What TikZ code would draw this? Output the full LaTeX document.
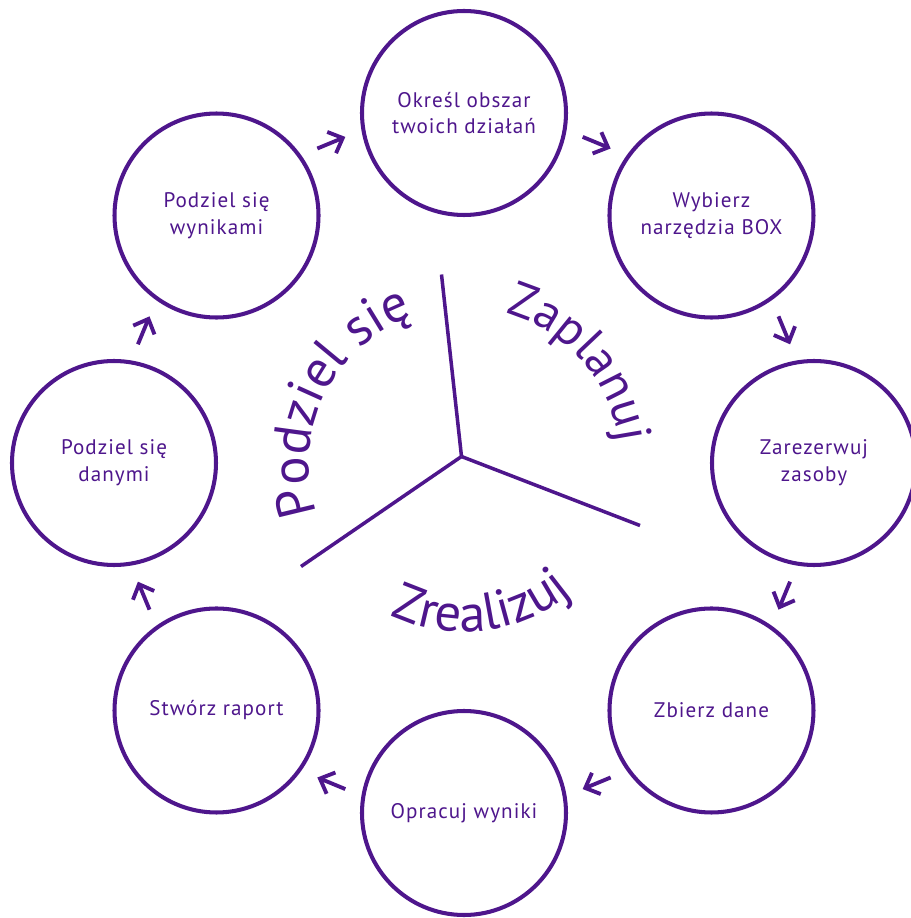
\documentclass[tikz,border=0pt]{standalone}
\usepackage{fontspec}
\setmainfont{PT Sans}
\newfontfamily\stagefont[LetterSpace=5]{PT Sans}
\usepackage{tikz}
\usetikzlibrary{arrows.meta}
\usetikzlibrary{decorations.text}
\definecolor{boxpurple}{RGB}{78,22,140}
\newcommand{\phasefont}{\fontsize{30}{36}\selectfont\color{boxpurple}}
\newcommand{\phasesmall}{\fontsize{28}{34}\selectfont\color{boxpurple}}

\begin{document}
\begin{tikzpicture}[
    stage/.style={circle, draw=boxpurple, line width=2.3pt, minimum size=4.08cm, inner sep=0pt,
        align=center, text=boxpurple, font=\stagefont\fontsize{12}{15.3}\selectfont},
    flow/.style={draw=boxpurple, line width=2.2pt, -{Straight Barb[length=0.24cm, width=0.46cm]}},
    divider/.style={draw=boxpurple, line width=2pt}
]
            \useasboundingbox (-9.28,-9.1) rectangle (8.94,9.26);

            % the eight steps round the ring
            \foreach \ang/\name/\txt in {90/plan/{Określ obszar\\twoich działań},
                    45/tools/{Wybierz\\narzędzia BOX},
                    0/book/{Zarezerwuj\\zasoby},
                    -45/collect/{Zbierz dane},
                    -90/process/{Opracuj wyniki},
                    -135/report/{Stwórz raport},
                    180/sharedata/{Podziel się\\danymi},
                    135/shareresults/{Podziel się\\wynikami}}
                \node[stage] (\name) at (\ang:7.0) {\txt};

            % arrows between the steps (clockwise)
            \foreach \ang [count=\i] in {67.5,22.5,-22.5,-67.5,-112.5,-157.5,157.5,112.5} {
                \coordinate (from\i) at (\ang+2.5:6.94);
                \coordinate (to\i) at (\ang-2.5:6.94);
                \draw[flow] (from\i) -- (to\i);
            }

            % three phases in the middle
            \coordinate (hub) at (-0.05,0.13);
            \coordinate (hubup) at (-0.45,3.77);
            \coordinate (hubright) at (3.52,-1.25);
            \coordinate (hubleft) at (-3.26,-2.07);
            \draw[divider] (hub) -- (hubup);
            \draw[divider] (hub) -- (hubright);
            \draw[divider] (hub) -- (hubleft);

            % phase names
            \path[decorate, decoration={text along path, text align=center, text={|\phasesmall|Zaplanuj}}]
                (80:3.12) arc[start angle=80, end angle=2, radius=3.12];
            \path[decorate, decoration={text along path, text align=center, text={|\phasefont|Podziel się}}]
                (196:3.1) arc[start angle=196, end angle=112, radius=3.1];
            \path[decorate, decoration={text along path, text align=center, text={|\phasefont|Zrealizuj}}]
                (237:3.38) arc[start angle=237, end angle=317, radius=3.38];

        \end{tikzpicture}
\end{document}
